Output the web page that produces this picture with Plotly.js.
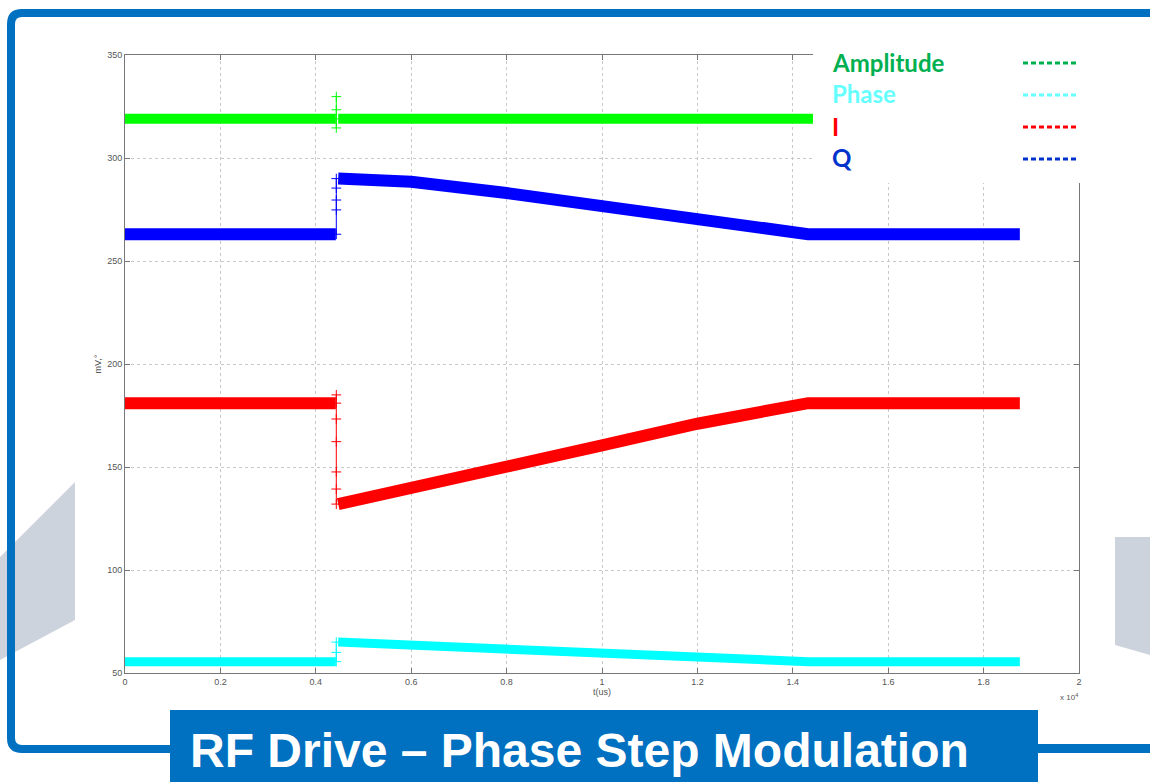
<!DOCTYPE html>
<html>
<head>
<meta charset="utf-8">
<script src="https://cdn.plot.ly/plotly-3.0.1.min.js"></script>
<style>html,body{margin:0;padding:0;background:#fff;}#chart{width:1150px;height:782px;}</style>
</head>
<body>
<div id="chart"></div>
<script>
// ---- data (time in microseconds) ----
const tUs       = [0, 4420, 4445, 4470, 6000, 8000, 10000, 12000, 14320, 18760];
const amplitude = [319, 319, null, 319, 319, 319, 318.5, 319, 319, 319];
const phase     = [55.5, 55.5, null, 65, 63.5, 61.5, 59.5, 57.5, 55.5, 55.5];
const iSignal   = [181, 181, null, 132, 139.5, 150, 160.5, 171, 181, 181];
const qSignal   = [263, 263, null, 290, 288.5, 283, 277, 270.5, 263, 263];

const stepTime  = 4430;
const ampStep   = [314.6, 319, 323.4, 329.8];
const phaseStep = [55.5, 60, 65];
const iStep     = [185, 181, 173.3, 162.3, 147.6, 139.3, 132];
const qStep     = [263, 274.8, 279.6, 285.4, 290];

const xTickVals   = [0, 2000, 4000, 6000, 8000, 10000, 12000, 14000, 16000, 18000, 20000];
const xTickLabels = ['0', '0.2', '0.4', '0.6', '0.8', '1', '1.2', '1.4', '1.6', '1.8', '2'];
const yTickVals   = [50, 100, 150, 200, 250, 300, 350];

const legendNames  = ['Amplitude', 'Phase', 'I', 'Q'];
const legendColors = ['#00b050', '#66ffff', '#ff0000', '#0033cc'];
const traceColors  = ['#00ff00', '#00ffff', '#ff0000', '#0000ff'];

const titleText = 'RF Drive \u2013 Phase Step Modulation';

// ---- geometry helpers (plot area: x 125..1079 px, y 55..673 px) ----
const PL = 125, PR = 1079, PT = 55, PB = 673;
const px = v => (v - PL) / (PR - PL);
const py = v => (PB - v) / (PB - PT);
const P = (x, y) => px(x) + ',' + py(y);

function band(y, color, width) {
  return { type: 'scatter', mode: 'lines', x: tUs, y: y, connectgaps: false,
    line: { color: color, width: width }, hoverinfo: 'skip', showlegend: false };
}
function step(vals, color) {
  return { type: 'scatter', mode: 'lines+markers', x: vals.map(() => stepTime), y: vals,
    line: { color: color, width: 1 },
    marker: { symbol: 'cross-thin', size: 7, line: { color: color, width: 1 } },
    hoverinfo: 'skip', showlegend: false };
}

const traces = [
  step(ampStep, traceColors[0]),
  step(phaseStep, traceColors[1]),
  step(iStep, traceColors[2]),
  step(qStep, traceColors[3]),
  band(amplitude, traceColors[0], 10),
  band(phase, traceColors[1], 9),
  band(iSignal, traceColors[2], 12),
  band(qSignal, traceColors[3], 12)
];

const frameBlue = '#0070c0';
const shapes = [
  // background grey decorations
  { type: 'path', xref: 'paper', yref: 'paper', layer: 'below',
    path: 'M' + P(0, 557) + ' L' + P(75, 482) + ' L' + P(75, 620) + ' L' + P(0, 660) + ' Z',
    fillcolor: '#cdd3dc', line: { width: 0 } },
  { type: 'path', xref: 'paper', yref: 'paper', layer: 'below',
    path: 'M' + P(1115, 537) + ' L' + P(1150, 537) + ' L' + P(1150, 655) + ' L' + P(1115, 645) + ' Z',
    fillcolor: '#cdd3dc', line: { width: 0 } },
  // blue frame
  { type: 'path', xref: 'paper', yref: 'paper', layer: 'above',
    path: 'M' + P(171, 749) + ' L' + P(22, 749) + ' Q' + P(11, 749) + ' ' + P(11, 738) +
          ' L' + P(11, 24) + ' Q' + P(11, 13) + ' ' + P(22, 13) + ' L' + P(1150, 13),
    line: { color: frameBlue, width: 8 } },
  { type: 'line', xref: 'paper', yref: 'paper', layer: 'above',
    x0: px(1038), x1: px(1150), y0: py(748.5), y1: py(748.5), line: { color: frameBlue, width: 9 } },
  // title banner
  { type: 'rect', xref: 'paper', yref: 'paper', layer: 'above',
    x0: px(170), x1: px(1038), y0: py(710), y1: py(782), fillcolor: frameBlue, line: { width: 0 } },
  // legend backing
  { type: 'rect', xref: 'paper', yref: 'paper', layer: 'above',
    x0: px(813), x1: px(1092), y0: py(35), y1: py(183), fillcolor: '#ffffff', line: { width: 0 } }
];
const legendRows = [62, 94, 126, 158];
legendRows.forEach((r, i) => {
  shapes.push({ type: 'line', xref: 'paper', yref: 'paper', layer: 'above',
    x0: px(1023), x1: px(1078), y0: py(r + 1), y1: py(r + 1),
    line: { color: legendColors[i], width: 3, dash: '5px,3px' } });
});

const annotations = legendNames.map((n, i) => ({
  xref: 'paper', yref: 'paper', x: px(830), y: py(legendRows[i]), xanchor: 'left', yanchor: 'middle',
  text: '<b>' + n + '</b>', showarrow: false,
  font: { family: 'Lato, Open Sans, sans-serif', size: 24, color: legendColors[i] }
}));
annotations.push({
  xref: 'paper', yref: 'paper', x: px(188), y: py(750), xanchor: 'left', yanchor: 'middle',
  text: '<b>' + titleText + '</b>', showarrow: false,
  font: { family: 'Liberation Sans, Arial, sans-serif', size: 48, color: '#ffffff' }
});
annotations.push({
  xref: 'paper', yref: 'paper', x: px(1069), y: py(697), xanchor: 'center', yanchor: 'middle',
  text: 'x 10<sup>4</sup>', showarrow: false,
  font: { family: 'Liberation Sans, Arial, sans-serif', size: 8, color: '#555' }
});

const axisCommon = {
  showline: true, linecolor: '#777', linewidth: 1, mirror: 'ticks',
  ticks: 'inside', ticklen: 5, tickcolor: '#777',
  showgrid: true, gridcolor: '#c8c8c8', griddash: 'dot', gridwidth: 1,
  zeroline: false, tickfont: { family: 'Liberation Sans, Arial, sans-serif', size: 9, color: '#555' }
};

const layout = {
  width: 1150, height: 782,
  margin: { l: PL, r: 1150 - PR, t: PT, b: 782 - PB, pad: 0 },
  paper_bgcolor: '#ffffff', plot_bgcolor: '#ffffff',
  showlegend: false,
  xaxis: Object.assign({}, axisCommon, {
    range: [0, 20000], tickmode: 'array', tickvals: xTickVals, ticktext: xTickLabels,
    title: { text: 't(us)', standoff: 1, font: { family: 'Liberation Sans, Arial, sans-serif', size: 9, color: '#555' } }
  }),
  yaxis: Object.assign({}, axisCommon, {
    range: [50, 350], tickmode: 'array', tickvals: yTickVals,
    title: { text: 'mV,\u00b0', standoff: 4, font: { family: 'Liberation Sans, Arial, sans-serif', size: 9, color: '#555' } }
  }),
  shapes: shapes,
  annotations: annotations
};

Plotly.newPlot('chart', traces, layout, { displayModeBar: false, staticPlot: true });
</script>
</body>
</html>
